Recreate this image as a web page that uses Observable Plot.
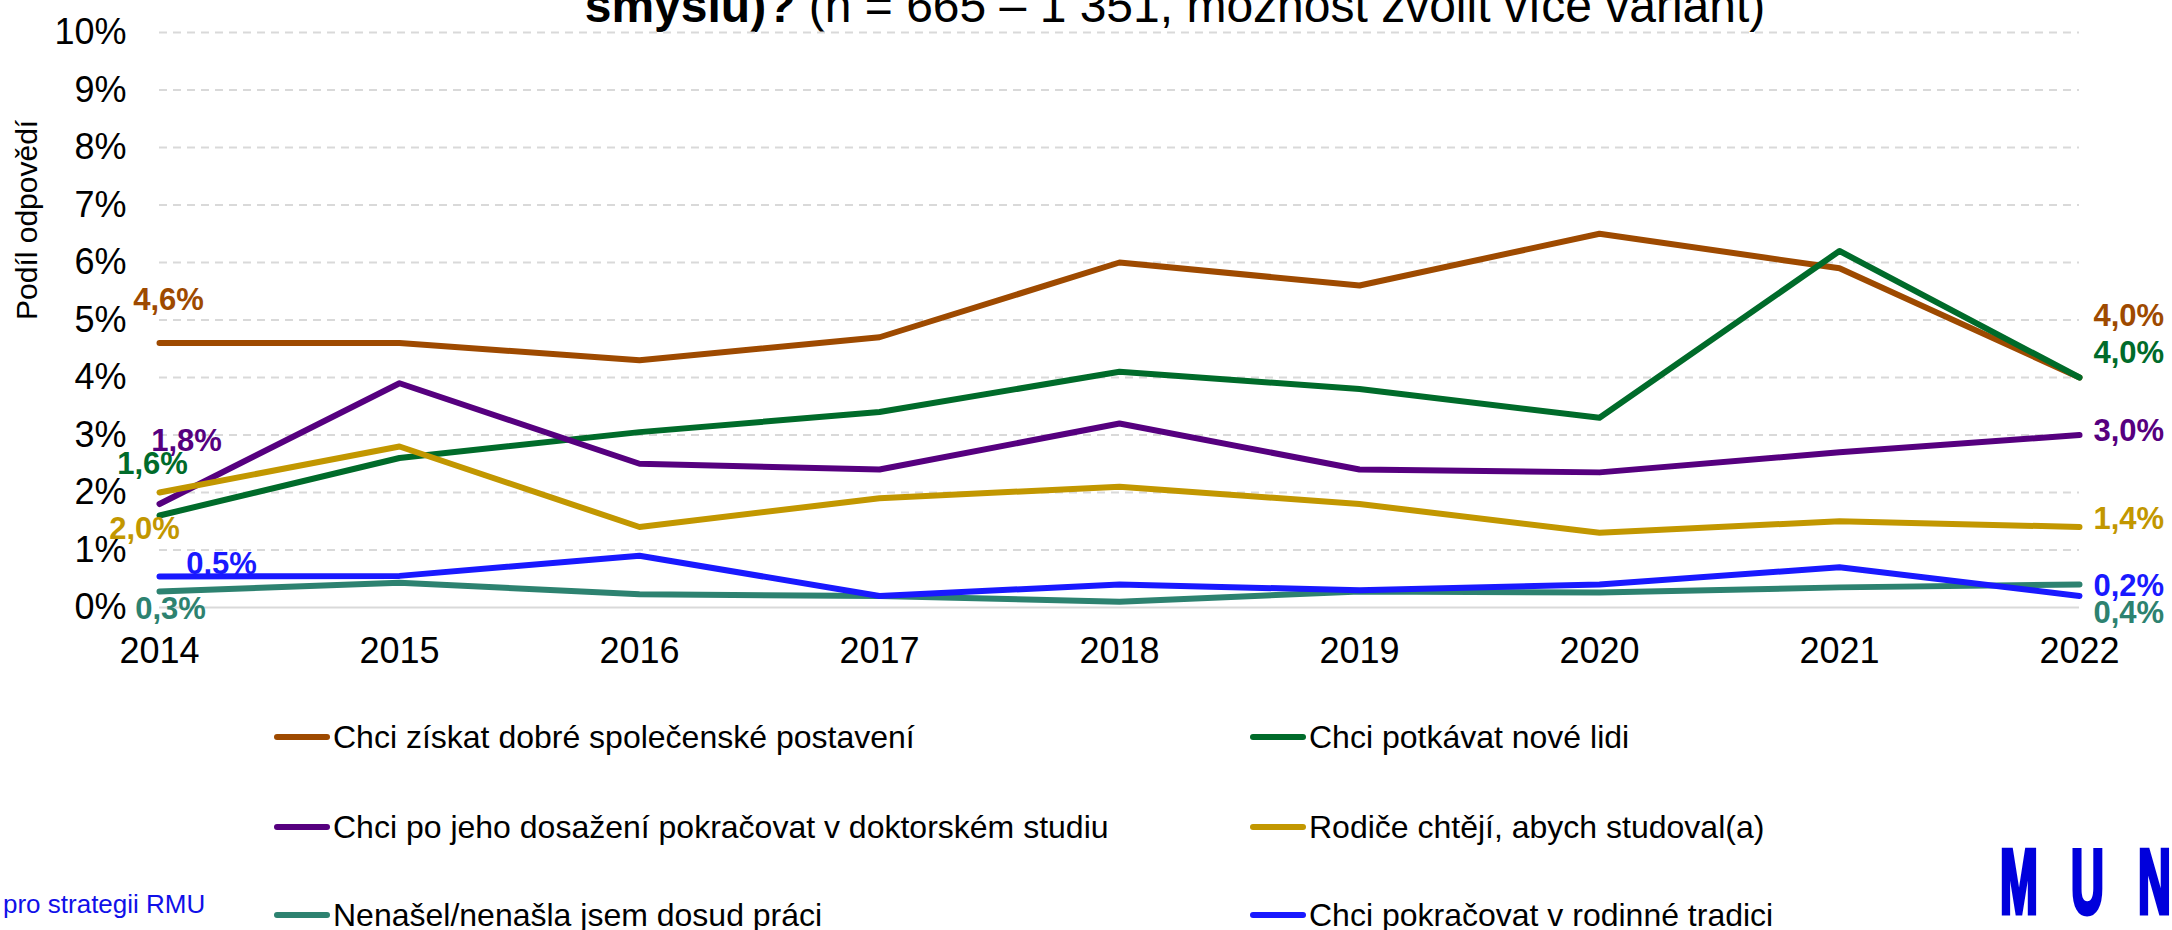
<!DOCTYPE html>
<html>
<head>
<meta charset="utf-8">
<script src="https://cdn.jsdelivr.net/npm/d3@7"></script>
<script src="https://cdn.jsdelivr.net/npm/@observablehq/plot@0.6"></script>
<style>
  html, body { margin: 0; padding: 0; background: #fff; }
  body { width: 2172px; height: 930px; overflow: hidden; position: relative; font-family: "Liberation Sans", Arial, sans-serif; }
  #title { position: absolute; left: 0; top: -18px; width: 2350px; text-align: center; font-size: 48px; line-height: 48px; white-space: nowrap; color: #000; }
  #chart { position: absolute; left: 0; top: 0; }
  .leg { position: absolute; height: 40px; display: flex; align-items: center; white-space: nowrap; font-size: 32px; color: #000; }
  .leg .sw { width: 56px; height: 6px; border-radius: 3px; margin-right: 3px; }
  #src { position: absolute; left: 3px; top: 891px; font-size: 26px; line-height: 26px; color: #1010e8; white-space: nowrap; }
  .logo { position: absolute; top: 836px; font-size: 91px; line-height: 91px; font-weight: bold; color: #0000dc; -webkit-text-stroke: 5px #0000dc; transform: scaleX(0.5); transform-origin: left top; }
</style>
</head>
<body>
<div id="title"><b>smyslu)?</b> (n = 665 – 1 351, možnost zvolit více variant)</div>
<div id="chart"></div>
<div id="legend"></div>
<div id="src">pro strategii RMU</div>
<div class="logo" style="left:2000px">M</div>
<div class="logo" style="left:2071px">U</div>
<div class="logo" style="left:2138px">N</div>
<script>
// ---- data ----
const years = [2014, 2015, 2016, 2017, 2018, 2019, 2020, 2021, 2022];
const seriesNames = [
  "Chci získat dobré společenské postavení",
  "Chci potkávat nové lidi",
  "Chci po jeho dosažení pokračovat v doktorském studiu",
  "Rodiče chtějí, abych studoval(a)",
  "Nenašel/nenašla jsem dosud práci",
  "Chci pokračovat v rodinné tradici"
];
const socialStatus = [4.6, 4.6, 4.3, 4.7, 6.0, 5.6, 6.5, 5.9, 4.0];
const meetPeople   = [1.6, 2.6, 3.05, 3.4, 4.1, 3.8, 3.3, 6.2, 4.0];
const doctoral     = [1.8, 3.9, 2.5, 2.4, 3.2, 2.4, 2.35, 2.7, 3.0];
const parents      = [2.0, 2.8, 1.4, 1.9, 2.1, 1.8, 1.3, 1.5, 1.4];
const noJob        = [0.28, 0.43, 0.23, 0.2, 0.1, 0.28, 0.26, 0.35, 0.4];
const tradition    = [0.54, 0.55, 0.9, 0.2, 0.4, 0.3, 0.4, 0.7, 0.2];
const yTicks = [0, 1, 2, 3, 4, 5, 6, 7, 8, 9, 10];
const yAxisLabel = "Podíl odpovědí";

// ---- styles ----
const seriesValues = [socialStatus, meetPeople, doctoral, parents, noJob, tradition];
const colors = ["#9E4A00", "#006B2A", "#56007F", "#C29700", "#2D8270", "#1919FF"];
// label offsets [dx, dy] for first-year label, dy for last-year label
const startOffsets = [[9, -43], [-7, -51], [27, -63], [-15, 37], [11, 18], [62, -12]];
const endOffsets = [-61, -24, -4, -8, 29, -10];

const rows = [];
seriesNames.forEach((s, i) => years.forEach((y, j) => rows.push({series: s, year: y, value: seriesValues[i][j]})));
const fmt = v => v.toFixed(1).replace(".", ",") + "%";

const marks = [
  Plot.ruleY(yTicks.filter(d => d > 0), {stroke: "#d9d9d9", strokeWidth: 2, strokeDasharray: "8,6"}),
  Plot.ruleY([0], {stroke: "#d9d9d9", strokeWidth: 2})
];
seriesNames.forEach((s, i) => {
  marks.push(Plot.line(rows.filter(r => r.series === s), {
    x: "year", y: "value", stroke: colors[i], strokeWidth: 6,
    strokeLinecap: "round", strokeLinejoin: "round"
  }));
});
seriesNames.forEach((s, i) => {
  const first = rows.filter(r => r.series === s && r.year === years[0]);
  const last = rows.filter(r => r.series === s && r.year === years[years.length - 1]);
  marks.push(Plot.text(first, {
    x: "year", y: "value", text: d => fmt(d.value), fill: colors[i],
    fontWeight: "bold", fontSize: 31, textAnchor: "middle",
    dx: startOffsets[i][0], dy: startOffsets[i][1]
  }));
  marks.push(Plot.text(last, {
    x: "year", y: "value", text: d => fmt(d.value), fill: colors[i],
    fontWeight: "bold", fontSize: 31, textAnchor: "start",
    dx: 14, dy: endOffsets[i]
  }));
});
marks.push(Plot.text([yAxisLabel], {
  frameAnchor: "left", dx: -132, rotate: -90, fontSize: 30, fill: "#000", text: d => d
}));

const chart = Plot.plot({
  width: 2172,
  height: 700,
  marginLeft: 159,
  marginRight: 93,
  marginTop: 32,
  marginBottom: 93,
  style: {fontFamily: "'Liberation Sans', Arial, sans-serif", fontSize: "36px", color: "#000", background: "transparent"},
  x: {type: "linear", domain: [years[0], years[years.length - 1]], ticks: years, tickFormat: d => String(d), tickSize: 0, tickPadding: 30, label: null},
  y: {domain: [0, 10], ticks: yTicks, tickFormat: d => d + "%", tickSize: 0, tickPadding: 33, label: null},
  marks
});
document.getElementById("chart").appendChild(chart);

// ---- legend ----
const legPos = [[274, 717], [1250, 717], [274, 807], [1250, 807], [274, 895], [1250, 895]];
const legend = document.getElementById("legend");
seriesNames.forEach((s, i) => {
  const el = document.createElement("div");
  el.className = "leg";
  el.style.left = legPos[i][0] + "px";
  el.style.top = legPos[i][1] + "px";
  const sw = document.createElement("div");
  sw.className = "sw";
  sw.style.background = colors[i];
  const t = document.createElement("span");
  t.textContent = s;
  el.appendChild(sw);
  el.appendChild(t);
  legend.appendChild(el);
});
</script>
</body>
</html>
